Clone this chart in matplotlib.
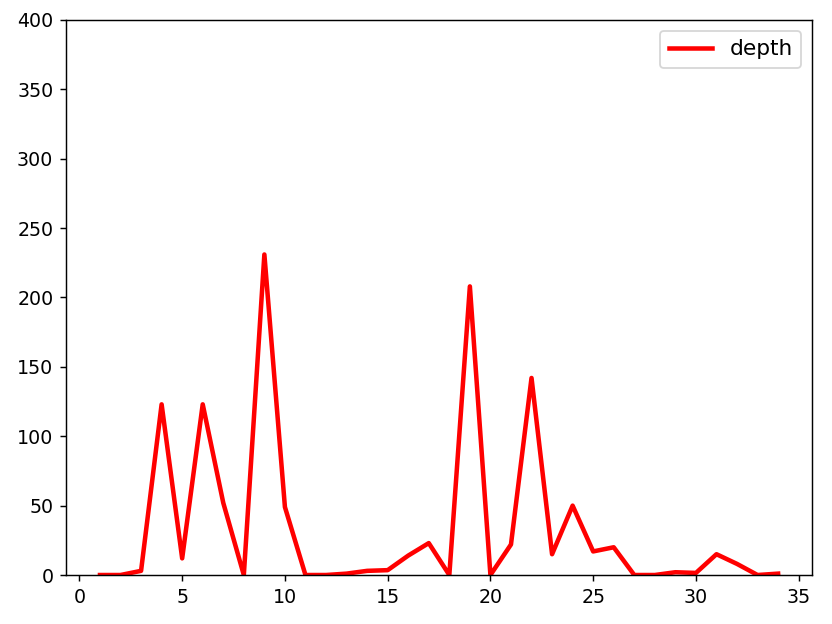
import matplotlib
matplotlib.use("Agg")
import matplotlib.pyplot as plt

# index 1..34, depth values
idx = list(range(1, 35))
depth = [0, 0, 3, 123, 12, 123, 52, 0, 231, 49,
         0, 0, 1, 3, 3.5, 14, 23, 0, 208, 0,
         22, 142, 15, 50, 17, 20, 0, 0, 2, 1.5,
         15, 8, 0, 1]

fig = plt.figure(figsize=(6.4, 4.8), dpi=130)
ax = fig.add_axes([0.0794, 0.0785, 0.8966, 0.8895])
ax.plot(idx, depth, color="red", linewidth=2.5, label="depth")
ax.set_ylim(0, 400)
ax.tick_params(labelsize=10.5)
ax.legend(loc="upper right", fontsize=12)

fig.savefig("out.png", dpi=130)
